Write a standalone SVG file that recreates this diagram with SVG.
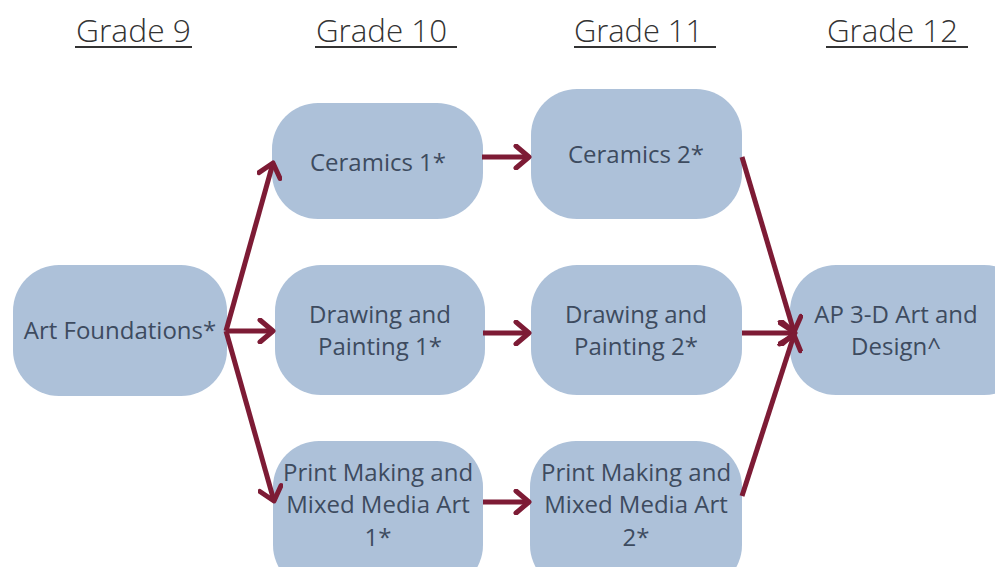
<svg xmlns="http://www.w3.org/2000/svg" width="995" height="567" viewBox="0 0 995 567">
<style>
.node{fill:#adc1d9;}
.t{font-family:"Open Sans","Noto Sans",sans-serif;font-size:24px;fill:#3d4b5f;text-anchor:middle;}
.h{font-family:"Open Sans","Noto Sans",sans-serif;font-size:32px;font-weight:300;fill:#333333;}
.ul{stroke:#333333;stroke-width:2;}
.c{stroke:#7d1b35;stroke-width:5;fill:none;marker-end:url(#ah);}
</style>
<defs>
<marker id="ah" viewBox="0 0 26 26" markerWidth="26" markerHeight="26" markerUnits="userSpaceOnUse" refX="21" refY="13" orient="auto">
<path d="M8,2 L21,13 L8,24" fill="none" stroke="#7d1b35" stroke-width="5" stroke-linecap="round" stroke-linejoin="round"/>
</marker>
</defs>
<rect width="995" height="567" fill="#ffffff"/>
<g id="headers">
<text class="h" x="76" y="42" textLength="115" lengthAdjust="spacingAndGlyphs">Grade 9</text>
<line class="ul" x1="75" y1="47" x2="192" y2="47"/>
<text class="h" x="316" y="42" textLength="131" lengthAdjust="spacingAndGlyphs">Grade 10</text>
<line class="ul" x1="315" y1="47" x2="457" y2="47"/>
<text class="h" x="574" y="42" textLength="129" lengthAdjust="spacingAndGlyphs">Grade 11</text>
<line class="ul" x1="574" y1="47" x2="716" y2="47"/>
<text class="h" x="827" y="42" textLength="131" lengthAdjust="spacingAndGlyphs">Grade 12</text>
<line class="ul" x1="826" y1="47" x2="968" y2="47"/>
</g>
<g id="art-foundations">
<rect class="node" x="13" y="265" width="214" height="131" rx="46"/>
<text class="t" x="120" y="339">Art Foundations*</text>
</g>
<g id="ceramics-1">
<rect class="node" x="272" y="103" width="211" height="116" rx="46"/>
<text class="t" x="378" y="171">Ceramics 1*</text>
</g>
<g id="drawing-painting-1">
<rect class="node" x="275" y="265" width="210" height="130" rx="46"/>
<text class="t" x="380" y="323">Drawing and</text>
<text class="t" x="380" y="355">Painting 1*</text>
</g>
<g id="print-making-1">
<rect class="node" x="273" y="441" width="210" height="150" rx="46"/>
<text class="t" x="378" y="481">Print Making and</text>
<text class="t" x="378" y="513">Mixed Media Art</text>
<text class="t" x="378" y="546">1*</text>
</g>
<g id="ceramics-2">
<rect class="node" x="531" y="89" width="211" height="130" rx="46"/>
<text class="t" x="636" y="163">Ceramics 2*</text>
</g>
<g id="drawing-painting-2">
<rect class="node" x="531" y="265" width="211" height="130" rx="46"/>
<text class="t" x="636" y="323">Drawing and</text>
<text class="t" x="636" y="355">Painting 2*</text>
</g>
<g id="print-making-2">
<rect class="node" x="530" y="441" width="212" height="150" rx="46"/>
<text class="t" x="636" y="481">Print Making and</text>
<text class="t" x="636" y="513">Mixed Media Art</text>
<text class="t" x="636" y="546">2*</text>
</g>
<g id="ap-3d-art">
<rect class="node" x="790" y="265" width="240" height="130" rx="46"/>
<text class="t" x="896" y="323">AP 3-D Art and</text>
<text class="t" x="896" y="355">Design^</text>
</g>
<g id="connectors">
<line class="c" x1="226" y1="331" x2="273" y2="163"/>
<line class="c" x1="226" y1="331" x2="273" y2="331"/>
<line class="c" x1="226" y1="331" x2="274" y2="501"/>
<line class="c" x1="482" y1="157" x2="529" y2="157"/>
<line class="c" x1="483" y1="333" x2="529" y2="333"/>
<line class="c" x1="483" y1="502" x2="529" y2="502"/>
<line class="c" x1="742" y1="157" x2="794" y2="332"/>
<line class="c" x1="742" y1="333" x2="795" y2="333"/>
<line class="c" x1="742" y1="496" x2="794" y2="335"/>
</g>
</svg>
